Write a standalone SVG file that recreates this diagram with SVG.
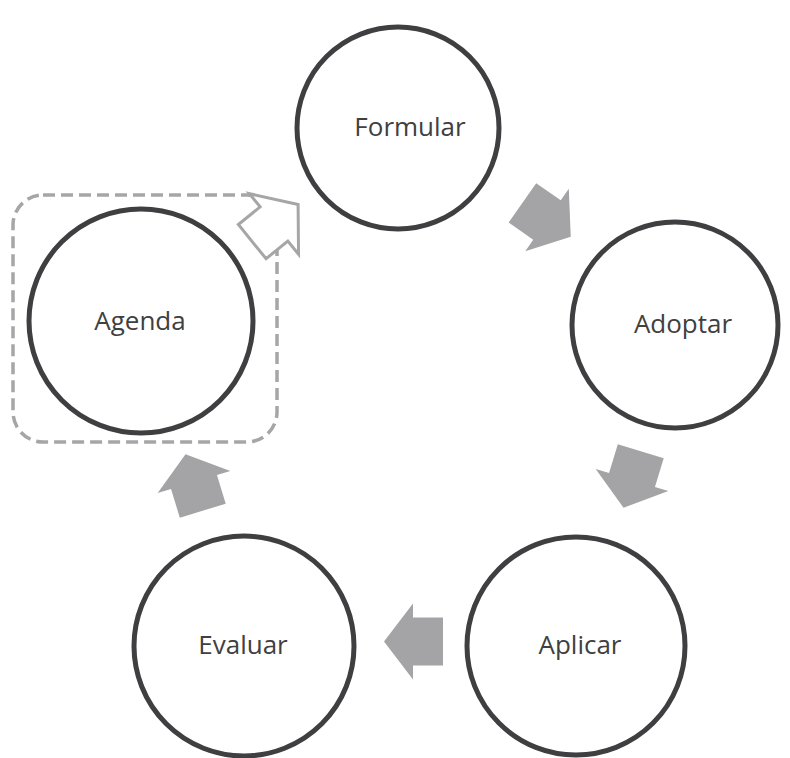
<svg xmlns="http://www.w3.org/2000/svg" width="790" height="758" viewBox="0 0 790 758">
<style>
.node circle{fill:#ffffff;stroke:#3f3f41;stroke-width:5}
.node text{font-family:"Open Sans","Segoe UI","DejaVu Sans",sans-serif;font-size:26px;fill:#404040;text-anchor:middle;dominant-baseline:central}
.arr{fill:#a4a4a7}
.arr-o{fill:#ffffff;stroke:#a6a6a8;stroke-width:3;stroke-linejoin:miter}
.dash{fill:none;stroke:#a6a6a8;stroke-width:3.5;stroke-dasharray:12 6}
</style>
<defs>
<path id="blk" d="M-30,-24 L0,-24 L0,-38 L29,0 L0,38 L0,24 L-30,24 Z"/>
</defs>
<rect width="790" height="758" fill="#ffffff"/>
<rect class="dash" x="13" y="195" width="264" height="247" rx="30" ry="30"/>
<g id="formular" class="node"><circle cx="398" cy="128" r="101"/><text x="410" y="126">Formular</text></g>
<g id="adoptar" class="node"><circle cx="675" cy="325" r="103"/><text x="683" y="323">Adoptar</text></g>
<g id="aplicar" class="node"><circle cx="576" cy="646" r="109"/><text x="580" y="644">Aplicar</text></g>
<g id="evaluar" class="node"><circle cx="244" cy="646" r="110"/><text x="243" y="644">Evaluar</text></g>
<g id="agenda" class="node"><circle cx="141" cy="321" r="112"/><text x="140" y="320">Agenda</text></g>
<g id="connectors">
<use href="#blk" class="arr" transform="translate(547,220) rotate(35)"/>
<use href="#blk" class="arr" transform="translate(632,480) rotate(107)"/>
<use href="#blk" class="arr" transform="translate(413,641.5) rotate(180)"/>
<use href="#blk" class="arr" transform="translate(194,482) rotate(-107)"/>
<path class="arr-o" d="M-28,-22 L0,-22 L0,-39 L31,0 L0,39 L0,22 L-28,22 Z" transform="translate(274,224) rotate(-39)"/>
</g>
</svg>
